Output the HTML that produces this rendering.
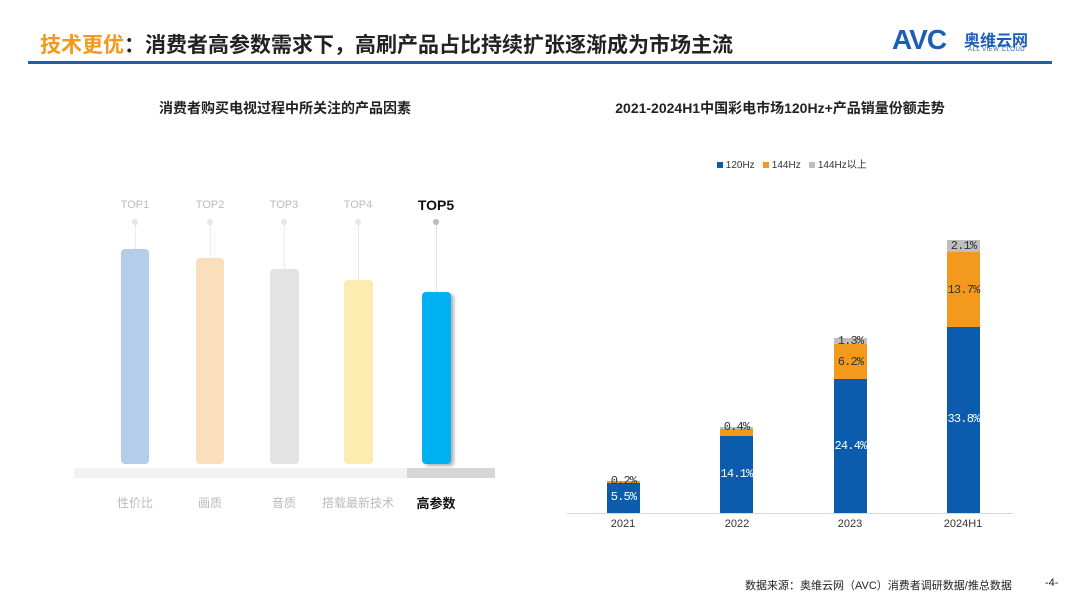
<!DOCTYPE html>
<html><head><meta charset="utf-8"><style>
body{margin:0;width:1080px;height:608px;background:#fff;position:relative;overflow:hidden;font-family:"Liberation Sans","Noto Sans CJK SC",sans-serif}
.a{position:absolute}
.t{position:absolute;transform:translateX(-50%);white-space:nowrap}
.bar{position:absolute;border-radius:4px}
.dl{position:absolute;width:0;border-left:1px dotted #ddd}
.dot{position:absolute;width:6px;height:6px;border-radius:50%;background:#e6e6e6}
.s{position:absolute;width:33px}
.lb{position:absolute;width:33px;text-align:center;font-size:12px;font-family:"Liberation Mono",monospace;letter-spacing:-0.8px}
</style></head><body>
<div class="a" style="left:40px;top:29px;font-size:21px;font-weight:bold;color:#222"><span style="color:#f39a1e">技术更优</span>：消费者高参数需求下，高刷产品占比持续扩张逐渐成为市场主流</div>
<div class="a" style="left:892px;top:24px;font-size:28px;font-weight:bold;color:#1a5fb4;letter-spacing:-1px">AVC</div>
<div class="a" style="left:964px;top:27px;font-size:16px;font-weight:bold;color:#1a5fb4">奥维云网</div>
<div class="a" style="left:968px;top:47px;font-size:6px;color:#1a5fb4;letter-spacing:0.5px">ALL VIEW CLOUD</div>
<div class="a" style="left:28px;top:61px;width:1024px;height:3px;background:#1a5fb4"></div>

<div class="t" style="left:285px;top:98px;font-size:14px;font-weight:bold;color:#222">消费者购买电视过程中所关注的产品因素</div>
<div class="t" style="left:780px;top:98px;font-size:14px;font-weight:bold;color:#222">2021-2024H1中国彩电市场120Hz+产品销量份额走势</div>

<div class="t" style="left:135px;top:199px;font-size:11px;color:#bbb">TOP1</div>
<div class="t" style="left:210px;top:199px;font-size:11px;color:#bbb">TOP2</div>
<div class="t" style="left:284px;top:199px;font-size:11px;color:#bbb">TOP3</div>
<div class="t" style="left:358px;top:199px;font-size:11px;color:#bbb">TOP4</div>
<div class="t" style="left:436px;top:197px;font-size:14px;font-weight:bold;color:#111">TOP5</div>
<div class="dot" style="left:132px;top:219px"></div><div class="dl" style="left:135px;top:225px;height:24px"></div>
<div class="dot" style="left:207px;top:219px"></div><div class="dl" style="left:210px;top:225px;height:33px"></div>
<div class="dot" style="left:281px;top:219px"></div><div class="dl" style="left:284px;top:225px;height:44px"></div>
<div class="dot" style="left:355px;top:219px"></div><div class="dl" style="left:358px;top:225px;height:55px"></div>
<div class="dot" style="left:433px;top:219px;background:#bbb"></div><div class="dl" style="left:436px;top:225px;height:67px;border-color:#ccc"></div>
<div class="bar" style="left:121px;top:249px;width:28px;height:215px;background:#b4cde8"></div>
<div class="bar" style="left:196px;top:258px;width:28px;height:206px;background:#fbdfbd"></div>
<div class="bar" style="left:270px;top:269px;width:29px;height:195px;background:#e3e3e3"></div>
<div class="bar" style="left:344px;top:280px;width:29px;height:184px;background:#feebb0"></div>
<div class="bar" style="left:422px;top:292px;width:29px;height:172px;background:#00b0f0;box-shadow:3px 2px 3px rgba(0,0,0,0.3)"></div>
<div class="a" style="left:74px;top:468px;width:333px;height:10px;background:#f2f2f2"></div>
<div class="a" style="left:407px;top:468px;width:88px;height:10px;background:#d6d6d6"></div>
<div class="t" style="left:135px;top:494px;font-size:12px;color:#bbb">性价比</div>
<div class="t" style="left:210px;top:494px;font-size:12px;color:#bbb">画质</div>
<div class="t" style="left:284px;top:494px;font-size:12px;color:#bbb">音质</div>
<div class="t" style="left:358px;top:494px;font-size:12px;color:#bbb">搭载最新技术</div>
<div class="t" style="left:436px;top:493px;font-size:13px;font-weight:bold;color:#111">高参数</div>

<div class="a" style="left:717px;top:156px;font-size:10px;color:#333;white-space:nowrap">
<span style="display:inline-block;width:6px;height:6px;background:#0b5cad"></span> 120Hz&nbsp;&nbsp;
<span style="display:inline-block;width:6px;height:6px;background:#f39a1e"></span> 144Hz&nbsp;&nbsp;
<span style="display:inline-block;width:6px;height:6px;background:#bfbfbf"></span> 144Hz以上</div>
<div class="a" style="left:567px;top:513px;width:446px;height:1px;background:#d9d9d9"></div>

<div class="s" style="left:607px;top:483px;height:30px;background:#0b5cad"></div>
<div class="s" style="left:607px;top:481px;height:2px;background:#f39a1e"></div>
<div class="lb" style="left:605px;top:490px;width:37px;color:#fff">5.5%</div>
<div class="lb" style="left:605px;top:474px;width:37px;color:#333">0.2%</div>

<div class="s" style="left:720px;top:436px;height:77px;background:#0b5cad"></div>
<div class="s" style="left:720px;top:429px;height:7px;background:#f39a1e"></div>
<div class="s" style="left:720px;top:427px;height:2px;background:#bfbfbf"></div>
<div class="lb" style="left:716px;top:467px;width:41px;color:#fff">14.1%</div>
<div class="lb" style="left:718px;top:420px;width:37px;color:#333">0.4%</div>

<div class="s" style="left:834px;top:379px;height:134px;background:#0b5cad"></div>
<div class="s" style="left:834px;top:344px;height:35px;background:#f39a1e"></div>
<div class="s" style="left:834px;top:338px;height:6px;background:#bfbfbf"></div>
<div class="lb" style="left:829px;top:439px;width:43px;color:#fff">24.4%</div>
<div class="lb" style="left:832px;top:355px;width:37px;color:#333">6.2%</div>
<div class="lb" style="left:832px;top:334px;width:37px;color:#333">1.3%</div>

<div class="s" style="left:947px;top:327px;height:186px;background:#0b5cad"></div>
<div class="s" style="left:947px;top:252px;height:75px;background:#f39a1e"></div>
<div class="s" style="left:947px;top:240px;height:12px;background:#bfbfbf"></div>
<div class="lb" style="left:942px;top:412px;width:43px;color:#fff">33.8%</div>
<div class="lb" style="left:942px;top:283px;width:43px;color:#333">13.7%</div>
<div class="lb" style="left:945px;top:239px;width:37px;color:#333">2.1%</div>

<div class="t" style="left:623px;top:518px;font-size:11px;color:#333">2021</div>
<div class="t" style="left:737px;top:518px;font-size:11px;color:#333">2022</div>
<div class="t" style="left:850px;top:518px;font-size:11px;color:#333">2023</div>
<div class="t" style="left:963px;top:518px;font-size:11px;color:#333">2024H1</div>

<div class="a" style="left:745px;top:577px;font-size:11px;color:#222;white-space:nowrap">数据来源：奥维云网（AVC）消费者调研数据/推总数据</div>
<div class="a" style="left:1045px;top:577px;font-size:11px;color:#222">-4-</div>
</body></html>
